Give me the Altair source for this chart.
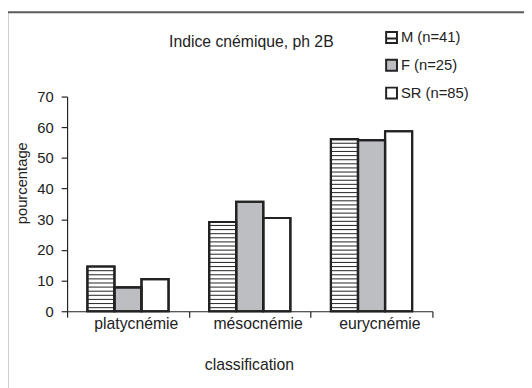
import altair as alt
import pandas as pd

categories = ["platycnémie", "mésocnémie", "eurycnémie"]
groups = ["M (n=41)", "F (n=25)", "SR (n=85)"]
m_values = [14.6, 29.1, 56.1]
f_values = [7.8, 35.7, 55.8]
sr_values = [10.5, 30.4, 58.7]
y_ticks = [0, 10, 20, 30, 40, 50, 60, 70]

fill_colors = ["#ffffff", "#bdbec1", "#ffffff"]
stroke_colors = ["#222222", "#222222", "#222222"]
m_symbol = "M-1,-1H1V1H-1ZM-1,0.2H1"
shapes = [m_symbol, "square", "square"]

rows = []
for g, vals in zip(groups, [m_values, f_values, sr_values]):
    for c, v in zip(categories, vals):
        rows.append({"classification": c, "groupe": g, "pourcentage": v})
df = pd.DataFrame(rows)

FONT = "Liberation Sans"
INK = "#222222"

x_enc = alt.X(
    "classification:N",
    sort=categories,
    scale=alt.Scale(domain=categories, paddingInner=0, paddingOuter=0),
    axis=alt.Axis(
        title="classification",
        tickBand="extent",
        labelAngle=0,
        labelOffset=8,
        labelFontSize=16,
        labelBaseline="alphabetic",
        labelPadding=11.7,
        tickSize=6,
        titleFontSize=16,
        titleFontWeight="normal",
        titleX=184.7,
        titleY=58.7,
        titleAlign="center",
        titleBaseline="alphabetic",
    ),
)
xoff_enc = alt.XOffset(
    "groupe:N",
    sort=groups,
    scale=alt.Scale(domain=groups, paddingInner=0, paddingOuter=0.75),
)
y_scale = alt.Scale(domain=[0, 70], nice=False, zero=True)
y_axis = alt.Axis(
    title="pourcentage",
    values=y_ticks,
    tickSize=6,
    labelPadding=8,
    labelFontSize=15,
    grid=False,
    titleFontSize=15,
    titleFontWeight="normal",
    titleAngle=270,
    titleX=-46,
    titleY=87.5,
    titleAlign="center",
    titleBaseline="middle",
)

bars = alt.Chart(df).mark_bar(stroke=INK, strokeWidth=2.2, strokeJoin="miter").encode(
    x=x_enc,
    xOffset=xoff_enc,
    y=alt.Y("pourcentage:Q", scale=y_scale, axis=y_axis),
    fill=alt.Fill("groupe:N", sort=groups,
                  scale=alt.Scale(domain=groups, range=fill_colors), legend=None),
)

stripes = (
    alt.Chart(df)
    .transform_filter(alt.datum.groupe == groups[0])
    .transform_calculate(s="sequence(1.0, datum.pourcentage - 0.6, 1.34)")
    .transform_flatten(["s"])
    .transform_calculate(s2="datum.s + 0.35")
    .mark_bar(color="#333333")
    .encode(
        x=x_enc,
        xOffset=xoff_enc,
        y=alt.Y("s:Q", scale=y_scale, axis=y_axis),
        y2="s2:Q",
    )
)

outline = alt.Chart(df).mark_bar(
    fillOpacity=0, stroke=INK, strokeWidth=2.2, strokeJoin="miter"
).encode(
    x=x_enc,
    xOffset=xoff_enc,
    y=alt.Y("pourcentage:Q", scale=y_scale, axis=y_axis),
)

legend_params = dict(
    orient="none",
    legendX=322,
    legendY=-67.5,
    title=None,
    padding=0,
    symbolSize=121,
    symbolStrokeWidth=2,
    symbolStrokeColor=INK,
    labelFont=FONT,
    labelFontSize=15,
    labelFontWeight="normal",
    labelColor=INK,
    labelOffset=2,
    rowPadding=9.2,
)

legend_layer = (
    alt.Chart(df)
    .transform_filter("false")
    .mark_point(filled=True, strokeWidth=2, size=121, opacity=1)
    .encode(
        fill=alt.Fill("groupe:N", sort=groups,
                      scale=alt.Scale(domain=groups, range=fill_colors),
                      legend=alt.Legend(**legend_params)),
        shape=alt.Shape("groupe:N", sort=groups,
                        scale=alt.Scale(domain=groups, range=shapes),
                        legend=alt.Legend(**legend_params)),
        stroke=alt.Stroke("groupe:N", sort=groups,
                          scale=alt.Scale(domain=groups, range=stroke_colors),
                          legend=alt.Legend(**legend_params)),
    )
)

frame_df = pd.DataFrame({"k": [0]})
frame_left = alt.Chart(frame_df).mark_rule(color="#5a5a5a", strokeWidth=2).encode(
    x=alt.value(-60.7), y=alt.value(-85.7), y2=alt.value(400)
)
frame_top = alt.Chart(frame_df).mark_rule(color="#5a5a5a", strokeWidth=2).encode(
    x=alt.value(-61.7), x2=alt.value(480), y=alt.value(-85.7)
)

chart = (
    alt.layer(bars, stripes, outline, legend_layer, frame_left, frame_top)
    .resolve_scale(fill="independent", shape="independent", stroke="independent")
    .properties(
        width=371,
        height=218,
        autosize=alt.AutoSizeParams(type="none"),
        padding={"left": 60, "top": 87, "right": 93, "bottom": 75},
        title=alt.Title(
            "Indice cnémique, ph 2B",
            frame="group",
            anchor="middle",
            dx=1.6,
            offset=-52.3,
            baseline="alphabetic",
            fontSize=16,
            fontWeight="normal",
            font=FONT,
            color=INK,
        ),
    )
    .configure(font=FONT, background="white")
    .configure_view(stroke=None)
    .configure_axis(
        labelFont=FONT,
        titleFont=FONT,
        labelColor=INK,
        titleColor=INK,
        domainColor=INK,
        tickColor=INK,
        domainWidth=1.2,
        tickWidth=1.2,
    )
)

chart.save("out.html", embed_options={"renderer": "svg", "actions": False})
